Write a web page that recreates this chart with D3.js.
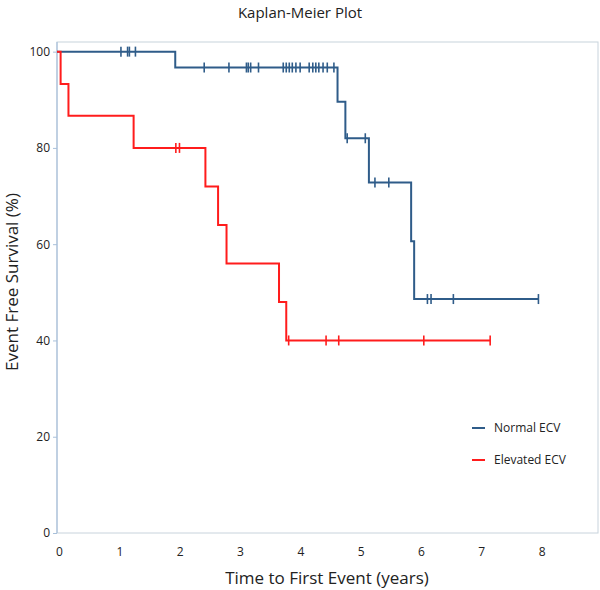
<!DOCTYPE html>
<html>
<head>
<meta charset="utf-8">
<script src="https://cdn.jsdelivr.net/npm/d3@7"></script>
<style>
  html, body { margin: 0; padding: 0; background: #fff; }
  svg { display: block; }
  text { font-family: "Open Sans", "Noto Sans", sans-serif; fill: #222; }
</style>
</head>
<body>
<svg id="chart" width="600" height="590"></svg>
<script>
// ---- Data ----
const xTicks = [0, 1, 2, 3, 4, 5, 6, 7, 8];
const yTicks = [0, 20, 40, 60, 80, 100];

// Normal ECV
const normalEventTimes = [1.96, 4.65, 4.78, 5.17, 5.87, 5.92];
const normalEventValues = [96.7, 89.6, 82.0, 72.8, 60.6, 48.6];
const normalCensorTimes = [1.06, 1.17, 1.20, 1.30, 2.44, 2.85, 3.14, 3.17, 3.21, 3.34,
  3.75, 3.80, 3.85, 3.90, 3.96, 4.03, 4.18, 4.24, 4.29, 4.34, 4.41, 4.48, 4.59,
  4.81, 5.11, 5.27, 5.50, 6.14, 6.20, 6.57, 7.98];

// Elevated ECV
const elevatedEventTimes = [0.06, 0.19, 1.27, 2.46, 2.67, 2.81, 3.68, 3.80];
const elevatedEventValues = [93.3, 86.7, 80.0, 72.0, 64.0, 56.0, 48.0, 40.0];
const elevatedCensorTimes = [1.97, 2.03, 3.84, 4.46, 4.67, 6.08, 7.18];

const seriesNames = ["Normal ECV", "Elevated ECV"];
const seriesColors = ["#2f5c89", "#ff1c1c"];

// ---- Layout ----
const svg = d3.select("#chart");
const pLeft = 57, pRight = 598, pTop = 42, pBottom = 533;
const x = d3.scaleLinear().domain([0, 9]).range([pLeft, pLeft + 9 * 60.33]);
const y = d3.scaleLinear().domain([0, 102]).range([pBottom, pTop]);

// frame
svg.append("rect").attr("x", pLeft).attr("y", pTop)
  .attr("width", pRight - pLeft).attr("height", pBottom - pTop)
  .attr("fill", "none").attr("stroke", "#c8d3dc").attr("stroke-width", 1);
svg.append("line").attr("x1", pLeft).attr("x2", pLeft).attr("y1", pTop).attr("y2", pBottom)
  .attr("stroke", "#a8c0da").attr("stroke-width", 1.2);

// y axis
const yAxis = d3.axisLeft(y).tickValues(yTicks).tickSize(4).tickPadding(3).tickFormat(d3.format("d"));
const gy = svg.append("g").attr("transform", `translate(${pLeft},0)`).call(yAxis);
gy.select(".domain").remove();
gy.selectAll(".tick line").attr("stroke", "#a8c0da");
gy.selectAll(".tick text").attr("font-size", 12).attr("fill", "#222")
  .style("font-family", "'Open Sans', sans-serif");

// x axis (labels only)
const xAxis = d3.axisBottom(x).tickValues(xTicks).tickSize(0).tickPadding(14).tickFormat(d3.format("d"));
const gx = svg.append("g").attr("transform", `translate(2,${pBottom})`).call(xAxis);
gx.select(".domain").remove();
gx.selectAll(".tick text").attr("font-size", 12).attr("fill", "#222")
  .style("font-family", "'Open Sans', sans-serif");

// titles
svg.append("text").attr("x", 300).attr("y", 18).attr("text-anchor", "middle")
  .attr("font-size", 15).text("Kaplan-Meier Plot");
svg.append("text").attr("x", 327).attr("y", 584).attr("text-anchor", "middle")
  .attr("font-size", 17).text("Time to First Event (years)");
svg.append("text").attr("transform", "translate(18,282) rotate(-90)")
  .attr("text-anchor", "middle").attr("font-size", 17).text("Event Free Survival (%)");

// ---- curves ----
function buildSteps(eventTimes, eventValues, censorTimes) {
  const end = d3.max(censorTimes.concat(eventTimes));
  const pts = [[0, 100]];
  eventTimes.forEach((t, i) => pts.push([t, eventValues[i]]));
  pts.push([end, eventValues[eventValues.length - 1]]);
  return pts;
}
function survAt(t, eventTimes, eventValues) {
  let v = 100;
  eventTimes.forEach((et, i) => { if (et <= t) v = eventValues[i]; });
  return v;
}

const series = [
  { ev: normalEventTimes, vals: normalEventValues, cens: normalCensorTimes, color: seriesColors[0] },
  { ev: elevatedEventTimes, vals: elevatedEventValues, cens: elevatedCensorTimes, color: seriesColors[1] }
];

const line = d3.line().x(d => x(d[0])).y(d => y(d[1])).curve(d3.curveStepAfter);

series.forEach(s => {
  const pts = buildSteps(s.ev, s.vals, s.cens);
  svg.append("path").datum(pts).attr("d", line)
    .attr("fill", "none").attr("stroke", s.color).attr("stroke-width", 2);
  svg.append("g").selectAll("line").data(s.cens).join("line")
    .attr("x1", d => x(d)).attr("x2", d => x(d))
    .attr("y1", d => y(survAt(d, s.ev, s.vals)) - 5)
    .attr("y2", d => y(survAt(d, s.ev, s.vals)) + 5)
    .attr("stroke", s.color).attr("stroke-width", 1.6);
});

// ---- legend ----
const legend = svg.append("g");
seriesNames.forEach((name, i) => {
  const ly = 428 + i * 32;
  legend.append("line").attr("x1", 472).attr("x2", 485).attr("y1", ly).attr("y2", ly)
    .attr("stroke", seriesColors[i]).attr("stroke-width", 2);
  legend.append("text").attr("x", 494).attr("y", ly + 4).attr("font-size", 12).text(name);
});
</script>
</body>
</html>
